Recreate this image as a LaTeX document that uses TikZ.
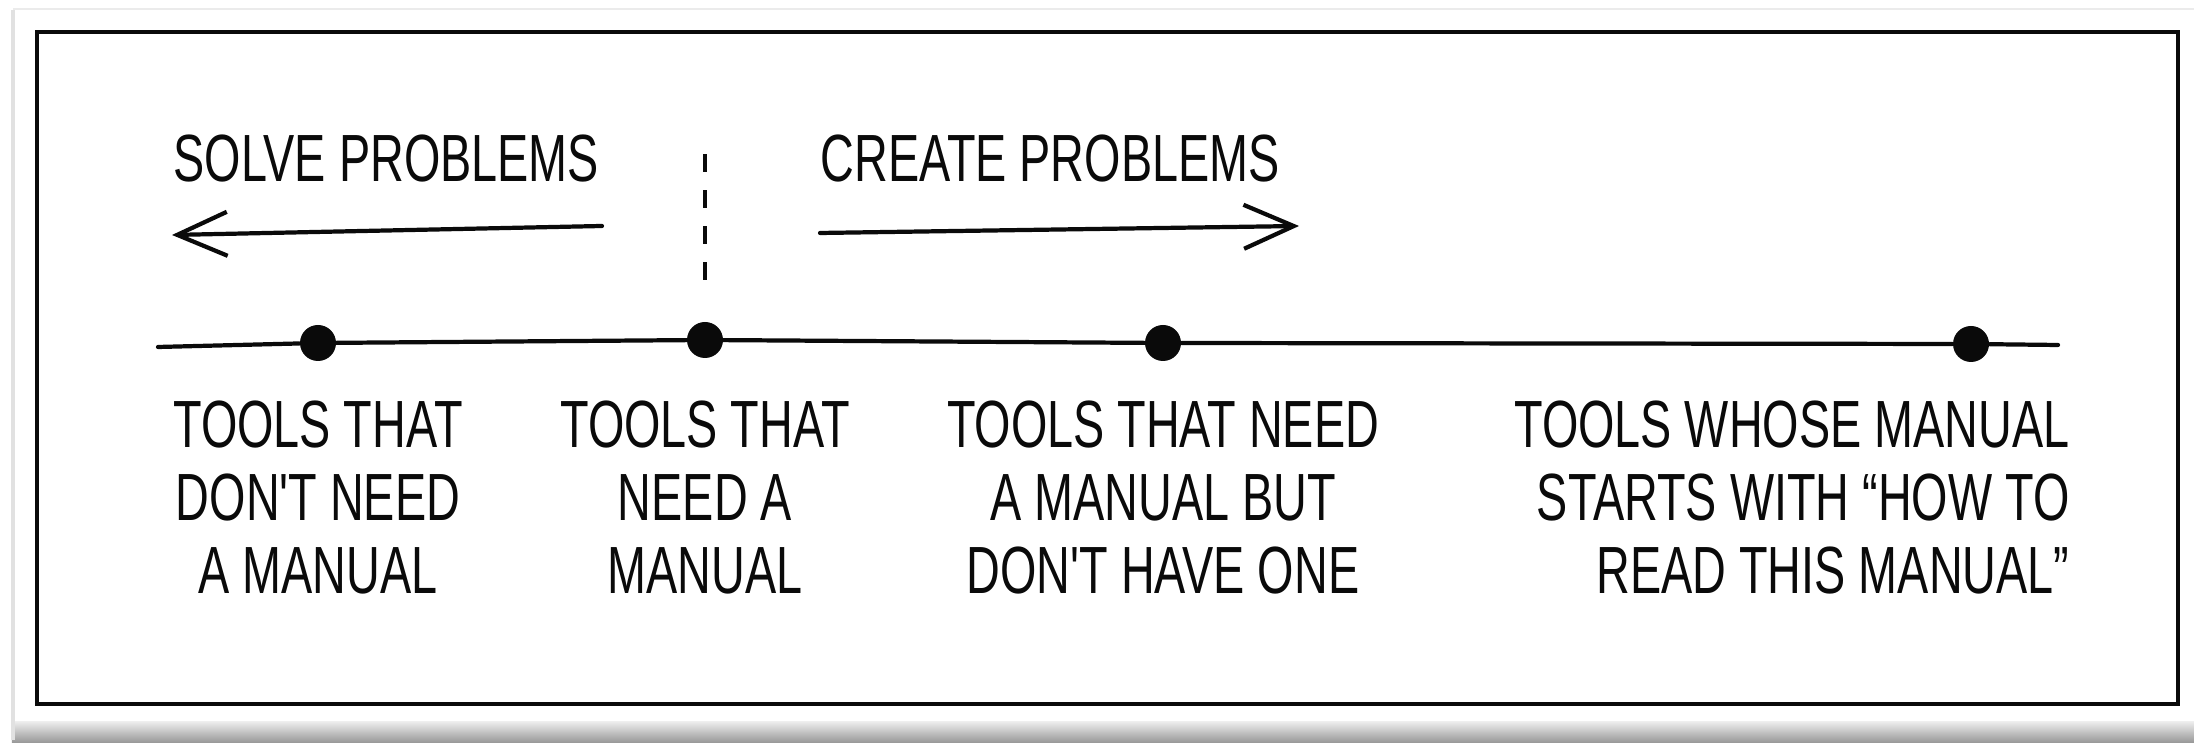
\documentclass[tikz,border=0pt]{standalone}
\usepackage{fontspec}
\usetikzlibrary{arrows.meta,positioning}
\newfontfamily\handfont{Liberation Sans}[FakeStretch=0.7]
\newcommand\tlfont{\handfont\fontsize{19pt}{20.8pt}\selectfont}
\definecolor{InkBlack}  {RGB}{ 10, 10, 10}
\definecolor{CardEdge}  {RGB}{225,225,225}
\definecolor{ShadowLt}  {RGB}{235,235,235}
\definecolor{ShadowDk}  {RGB}{150,150,150}
\tikzset{
  %% 画框
  cardframe/.style={draw=InkBlack,line width=1pt},
  %% 时间轴：线、圆点、标签
  tlline/.style={draw=InkBlack,line width=1.2pt,line cap=round,line join=round},
  tldot/.style={circle,fill=InkBlack,inner sep=0pt,minimum size=0.36cm},
  tllabel/.style={font=\tlfont,text=InkBlack,align=center,inner sep=0pt},
  tltitle/.style={font=\tlfont,text=InkBlack,inner sep=0pt},
  %% 箭头与分界虚线
  tlarr/.style={-{Straight Barb[length=0.5cm,width=0.44cm]},
                line width=1.2pt,line cap=round,color=InkBlack},
  tlcut/.style={draw=InkBlack,line width=1.2pt,dash pattern=on 0.18cm off 0.18cm},
}
\begin{document}
\begin{tikzpicture}
        \useasboundingbox (0,0) rectangle (21.94,-7.46);
        \fill[white] (0,0) rectangle (21.94,-7.46);
        % 卡片阴影
        \shade[top color=ShadowLt,bottom color=ShadowDk] (0.12,-7.22) rectangle (21.94,-7.43);
        \draw[CardEdge,line width=1.2pt] (0.13,-0.10) -- (0.13,-7.40);
        \draw[ShadowLt,line width=0.8pt] (0.13,-0.09) -- (21.94,-0.09);
        \draw[cardframe] (0.37,-0.32) rectangle (21.78,-7.04);

        \node[tldot] (d1) at (3.18,-3.43) {};
        \node[tldot] (d2) at (7.05,-3.40) {};
        \node[tldot] (d3) at (11.63,-3.43) {};
        \node[tldot] (d4) at (19.71,-3.44) {};
        \coordinate (tlstart) at (1.58,-3.47);
        \coordinate (tlend) at (20.58,-3.45);
        \draw[tlline] (tlstart) -- (d1) -- (d2) -- (d3) -- (d4) -- (tlend);

        \node[tllabel, below=0.38cm of d1] (nomanual)
              {TOOLS THAT\\DON'T NEED\\A MANUAL};
        \node[tllabel, below=0.41cm of d2] (needmanual)
              {TOOLS THAT\\NEED A\\MANUAL};
        \node[tllabel, below=0.38cm of d3] (lackmanual)
              {TOOLS THAT NEED\\A MANUAL BUT\\DON'T HAVE ONE};
        \node[tllabel, align=right, below=0.37cm of d4, anchor=north east, xshift=0.99cm] (metamanual)
              {TOOLS WHOSE MANUAL\\STARTS WITH “HOW TO\\READ THIS MANUAL”};

        \node[tltitle, anchor=base west] (solve) at (1.73,-1.82) {SOLVE PROBLEMS};
        \node[tltitle, anchor=base west] (create) at (8.20,-1.82) {CREATE PROBLEMS};
        \coordinate (solveR) at (6.02,-2.26);
        \coordinate (solveL) at (1.72,-2.35);
        \coordinate (createL) at (8.20,-2.33);
        \coordinate (createR) at (12.99,-2.26);
        \draw[tlarr] (solveR) -- (solveL);
        \draw[tlarr] (createL) -- (createR);

        \coordinate[above=0.40cm of d2] (cutbot);
        \coordinate[above=1.27cm of cutbot] (cuttop);
        \draw[tlcut] (cuttop) -- (cutbot);
      \end{tikzpicture}
\end{document}
